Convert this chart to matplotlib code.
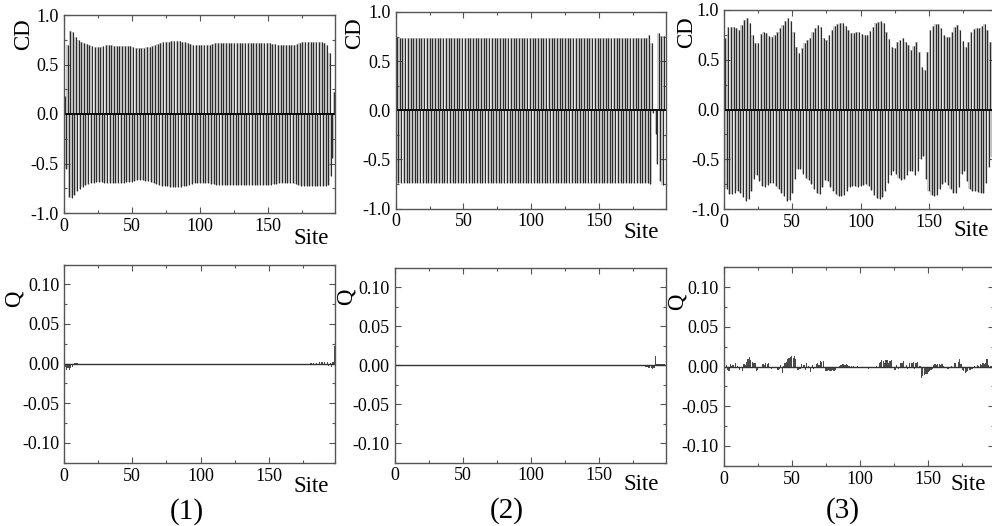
import numpy as np
import matplotlib
matplotlib.use("Agg")
import matplotlib.pyplot as plt
from matplotlib.ticker import MultipleLocator

plt.rcParams['font.family'] = ['Liberation Serif', 'DejaVu Serif']

# ---- data (sites 1..198) ----
sites = np.arange(1, 199)

cd_1 = [
    0.18, -0.56, 0.70, -0.84, 0.84, -0.85, 0.83, -0.82, 0.78, -0.78,
    0.75, -0.76, 0.73, -0.74, 0.72, -0.72, 0.71, -0.71, 0.70, -0.70,
    0.69, -0.70, 0.68, -0.69, 0.68, -0.69, 0.68, -0.69, 0.69, -0.70,
    0.70, -0.70, 0.70, -0.70, 0.70, -0.70, 0.69, -0.70, 0.69, -0.70,
    0.69, -0.70, 0.69, -0.70, 0.69, -0.69, 0.69, -0.69, 0.69, -0.69,
    0.68, -0.68, 0.67, -0.67, 0.67, -0.67, 0.67, -0.67, 0.67, -0.68,
    0.68, -0.68, 0.68, -0.69, 0.69, -0.70, 0.70, -0.71, 0.71, -0.72,
    0.72, -0.73, 0.73, -0.73, 0.73, -0.73, 0.73, -0.74, 0.74, -0.74,
    0.74, -0.74, 0.74, -0.74, 0.74, -0.74, 0.73, -0.73, 0.73, -0.73,
    0.72, -0.72, 0.71, -0.71, 0.70, -0.70, 0.70, -0.70, 0.70, -0.70,
    0.70, -0.70, 0.70, -0.70, 0.70, -0.70, 0.70, -0.71, 0.71, -0.71,
    0.72, -0.72, 0.72, -0.72, 0.72, -0.72, 0.72, -0.72, 0.72, -0.72,
    0.72, -0.72, 0.72, -0.72, 0.72, -0.72, 0.72, -0.72, 0.72, -0.72,
    0.72, -0.72, 0.72, -0.72, 0.72, -0.72, 0.72, -0.72, 0.72, -0.72,
    0.72, -0.72, 0.72, -0.72, 0.72, -0.72, 0.72, -0.72, 0.72, -0.72,
    0.72, -0.72, 0.71, -0.71, 0.71, -0.71, 0.70, -0.70, 0.70, -0.70,
    0.70, -0.70, 0.70, -0.70, 0.70, -0.70, 0.70, -0.70, 0.70, -0.71,
    0.71, -0.72, 0.72, -0.73, 0.73, -0.73, 0.73, -0.73, 0.73, -0.73,
    0.73, -0.73, 0.73, -0.73, 0.73, -0.73, 0.73, -0.73, 0.73, -0.73,
    0.72, -0.73, 0.70, -0.72, 0.62, -0.63, -0.44, 0.22,
]

cd_2 = [
    0.75, -0.74, 0.74, -0.74, 0.74, -0.74, 0.74, -0.74, 0.74, -0.74,
    0.74, -0.74, 0.74, -0.74, 0.74, -0.74, 0.74, -0.74, 0.74, -0.74,
    0.74, -0.74, 0.74, -0.74, 0.74, -0.74, 0.74, -0.74, 0.74, -0.74,
    0.74, -0.74, 0.74, -0.74, 0.74, -0.74, 0.74, -0.74, 0.74, -0.74,
    0.74, -0.74, 0.74, -0.74, 0.74, -0.74, 0.74, -0.74, 0.74, -0.74,
    0.74, -0.74, 0.74, -0.74, 0.74, -0.74, 0.74, -0.74, 0.74, -0.74,
    0.74, -0.74, 0.74, -0.74, 0.74, -0.74, 0.74, -0.74, 0.74, -0.74,
    0.74, -0.74, 0.74, -0.74, 0.74, -0.74, 0.74, -0.74, 0.74, -0.74,
    0.74, -0.74, 0.74, -0.74, 0.74, -0.74, 0.74, -0.74, 0.74, -0.74,
    0.74, -0.74, 0.74, -0.74, 0.74, -0.74, 0.74, -0.74, 0.74, -0.74,
    0.74, -0.74, 0.74, -0.74, 0.74, -0.74, 0.74, -0.74, 0.74, -0.74,
    0.74, -0.74, 0.74, -0.74, 0.74, -0.74, 0.74, -0.74, 0.74, -0.74,
    0.74, -0.74, 0.74, -0.74, 0.74, -0.74, 0.74, -0.74, 0.74, -0.74,
    0.74, -0.74, 0.74, -0.74, 0.74, -0.74, 0.74, -0.74, 0.74, -0.74,
    0.74, -0.74, 0.74, -0.74, 0.74, -0.74, 0.74, -0.74, 0.74, -0.74,
    0.74, -0.74, 0.74, -0.74, 0.74, -0.74, 0.74, -0.74, 0.74, -0.74,
    0.74, -0.74, 0.74, -0.74, 0.74, -0.74, 0.74, -0.74, 0.74, -0.74,
    0.74, -0.74, 0.74, -0.74, 0.74, -0.74, 0.74, -0.74, 0.74, -0.74,
    0.74, -0.74, 0.74, -0.74, 0.74, -0.74, 0.77, -0.75, 0.68, -0.03,
    0.00, -0.24, -0.55, 0.79, -0.72, 0.76, -0.76, 0.76,
]

cd_3 = [
    0.72, -0.80, 0.83, -0.85, 0.83, -0.85, 0.83, -0.84, 0.82, -0.82,
    0.80, -0.84, 0.85, -0.88, 0.90, -0.92, 0.92, -0.90, 0.87, -0.82,
    0.75, -0.70, 0.67, -0.66, 0.67, -0.72, 0.76, -0.77, 0.78, -0.78,
    0.77, -0.76, 0.74, -0.74, 0.73, -0.74, 0.75, -0.77, 0.78, -0.80,
    0.82, -0.84, 0.85, -0.87, 0.89, -0.92, 0.92, -0.91, 0.89, -0.84,
    0.78, -0.70, 0.63, -0.60, 0.57, -0.60, 0.62, -0.65, 0.67, -0.69,
    0.70, -0.71, 0.72, -0.75, 0.78, -0.80, 0.82, -0.84, 0.85, -0.85,
    0.83, -0.78, 0.72, -0.71, 0.70, -0.72, 0.75, -0.78, 0.80, -0.82,
    0.84, -0.85, 0.86, -0.87, 0.87, -0.87, 0.87, -0.86, 0.84, -0.82,
    0.80, -0.78, 0.77, -0.77, 0.77, -0.77, 0.78, -0.78, 0.78, -0.77,
    0.76, -0.76, 0.75, -0.75, 0.75, -0.77, 0.79, -0.81, 0.83, -0.86,
    0.87, -0.89, 0.88, -0.90, 0.89, -0.88, 0.87, -0.82, 0.78, -0.74,
    0.71, -0.66, 0.63, -0.62, 0.62, -0.65, 0.68, -0.69, 0.70, -0.71,
    0.72, -0.70, 0.68, -0.66, 0.65, -0.62, 0.60, -0.62, 0.64, -0.66,
    0.68, -0.62, 0.58, -0.50, 0.43, -0.47, 0.40, -0.70, 0.58, -0.82,
    0.80, -0.86, 0.84, -0.87, 0.86, -0.86, 0.86, -0.80, 0.82, -0.75,
    0.75, -0.73, 0.73, -0.76, 0.73, -0.80, 0.78, -0.84, 0.83, -0.84,
    0.85, -0.78, 0.80, -0.65, 0.69, -0.62, 0.63, -0.72, 0.68, -0.80,
    0.78, -0.82, 0.81, -0.82, 0.82, -0.83, 0.82, -0.84, 0.84, -0.84,
    0.86, -0.74, 0.80, -0.58, 0.68, -0.48, 0.50, -0.30,
]

# Q, panels (1) and (2): only the sites that are visibly non-zero
q_1_nonzero = {
    1: -0.004, 2: -0.008, 3: -0.006, 4: -0.008, 5: -0.005, 6: -0.004,
    7: -0.001, 8: 0.001, 9: 0.001, 10: 0.001,
    181: 0.0005, 182: -0.0005, 183: 0.001, 184: -0.001, 185: 0.001,
    186: -0.001, 187: 0.0015, 188: -0.0015, 189: 0.002, 190: -0.002,
    191: 0.002, 192: -0.002, 193: 0.002, 194: -0.003, 195: 0.001,
    196: -0.004, 197: 0.002, 198: 0.022,
}
q_2_nonzero = {
    184: -0.002, 185: -0.003, 186: -0.004, 187: -0.004, 188: -0.004,
    189: -0.005, 190: -0.004, 191: 0.012, 192: 0.001, 193: 0.001,
    194: 0.001, 195: 0.001, 196: 0.001, 197: 0.001, 198: 0.001,
}

q_3 = [
    -0.002, 0.002, -0.004, -0.006, 0.003, 0.001, 0.002, -0.001, 0.004, 0.001,
    -0.002, -0.004, 0.000, -0.006, 0.003, 0.002, 0.006, 0.009, 0.012, 0.008,
    0.006, 0.004, 0.005, -0.006, -0.004, -0.002, -0.002, 0.000, 0.003, 0.002,
    0.004, 0.003, 0.004, -0.001, -0.003, -0.002, -0.001, -0.002, -0.002, -0.004,
    -0.003, 0.002, -0.008, 0.001, 0.004, 0.006, 0.009, 0.011, 0.012, 0.013,
    0.011, 0.013, 0.010, -0.005, -0.004, -0.003, 0.003, -0.002, 0.002, -0.004,
    0.004, 0.001, -0.002, -0.007, 0.002, -0.003, -0.002, 0.003, 0.005, 0.002,
    0.007, 0.006, 0.007, -0.001, -0.006, -0.006, -0.005, -0.006, -0.006, -0.005,
    -0.006, -0.005, -0.001, 0.000, 0.001, 0.002, 0.003, 0.003, 0.002, 0.003,
    0.002, 0.001, 0.000, 0.001, 0.001, 0.000, -0.001, 0.001, 0.000, -0.001,
    0.000, -0.001, -0.001, -0.002, -0.002, -0.003, -0.002, -0.002, -0.001, -0.002,
    0.000, 0.001, -0.001, 0.005, 0.006, 0.008, 0.007, 0.005, 0.008, 0.008,
    0.005, 0.007, 0.008, -0.002, -0.005, -0.004, 0.002, -0.003, -0.002, 0.005,
    0.004, 0.007, -0.002, 0.002, -0.003, 0.005, -0.002, 0.004, 0.006, -0.003,
    0.005, 0.006, -0.002, 0.001, -0.014, -0.012, -0.011, -0.010, -0.009, -0.007,
    -0.006, -0.005, -0.003, 0.002, 0.003, 0.002, 0.003, 0.003, 0.002, 0.003,
    0.001, -0.001, 0.000, -0.003, -0.003, -0.002, 0.001, -0.001, 0.004, 0.005,
    -0.002, 0.006, 0.009, 0.003, -0.004, -0.006, -0.008, -0.007, -0.006, -0.005,
    -0.004, -0.003, -0.002, 0.001, -0.001, 0.002, 0.001, 0.003, 0.002, 0.004,
    0.003, 0.004, 0.009, 0.002, -0.001, 0.001, 0.000, 0.000,
]


def from_sparse(d):
    q = np.zeros(len(sites))
    for s, v in d.items():
        q[s - 1] = v
    return q


q_1 = from_sparse(q_1_nonzero)
q_2 = from_sparse(q_2_nonzero)

W, H = 992, 526
fig = plt.figure(figsize=(W / 100, H / 100), dpi=100)


def px_axes(l, t, r, b):
    return fig.add_axes([l / W, 1 - b / H, (r - l) / W, (b - t) / H])


def px_text(x, y, s, **kw):
    fig.text(x / W, 1 - y / H, s, ha='center', va='center', **kw)


spine_c = '#555555'


def style(ax, ymaj, ymin, xmax=198.5):
    ax.set_xlim(0, xmax)
    ax.xaxis.set_major_locator(MultipleLocator(50))
    ax.xaxis.set_minor_locator(MultipleLocator(25))
    ax.yaxis.set_major_locator(MultipleLocator(ymaj))
    ax.yaxis.set_minor_locator(MultipleLocator(ymin))
    ax.tick_params(which='both', direction='in', top=True, right=True,
                   color=spine_c, labelsize=13, width=0.8)
    ax.tick_params(which='major', length=4)
    ax.tick_params(which='minor', length=2.5)
    for sp in ax.spines.values():
        sp.set_color(spine_c)
        sp.set_linewidth(1.0)


top_boxes = [(63.5, 15, 334.5, 213), (395.7, 12, 666, 208.5), (724, 10, 995, 209)]
bot_boxes = [(64, 264.5, 335, 462.7), (394.5, 267.7, 665.5, 462.5), (723.5, 267.3, 994.5, 465.7)]
cd_all = [cd_1, cd_2, cd_3]
q_all = [q_1, q_2, q_3]
xmax_top = [198.5, 199.5, 198.5]

for box, cd, xm in zip(top_boxes, cd_all, xmax_top):
    ax = px_axes(*box)
    # light fill of each column, dark stroke at its centre
    ax.bar(sites, cd, width=1.9, color='#cfcfcf', linewidth=0)
    ax.vlines(sites, 0, cd, color='#2c2c2c', lw=0.85)
    ax.axhline(0, color='black', lw=1.3)
    ax.set_ylim(-1.0, 1.0)
    style(ax, 0.5, 0.25, xm)
    ax.set_yticks([-1.0, -0.5, 0.0, 0.5, 1.0])
    ax.set_yticklabels(['-1.0', '-0.5', '0.0', '0.5', '1.0'])

for box, q in zip(bot_boxes, q_all):
    ax = px_axes(*box)
    ax.bar(sites, q, width=0.9, color='#4a4a4a', linewidth=0)
    ax.axhline(0, color='#333333', lw=1.0)
    ax.set_ylim(-0.125, 0.125)
    style(ax, 0.05, 0.025)
    ax.set_yticks([-0.10, -0.05, 0.0, 0.05, 0.10])
    ax.set_yticklabels(['-0.10', '-0.05', '0.00', '0.05', '0.10'])

# axis labels placed as in the figure
for x, y in [(24, 34), (355, 33), (687, 32)]:
    px_text(x, y, 'CD', rotation=90, fontsize=16.5)
for x, y in [(14, 299), (346, 297), (677, 302)]:
    px_text(x, y, 'Q', rotation=90, fontsize=16.5)
for x, y in [(311, 238), (641, 232), (971, 230), (311, 487), (641, 484), (968, 484)]:
    px_text(x, y, 'Site', fontsize=16.5)
for x, y, s in [(187, 512, '(1)'), (507, 511, '(2)'), (843, 511, '(3)')]:
    px_text(x, y, s, fontsize=21)

fig.savefig('out.png', dpi=100)
